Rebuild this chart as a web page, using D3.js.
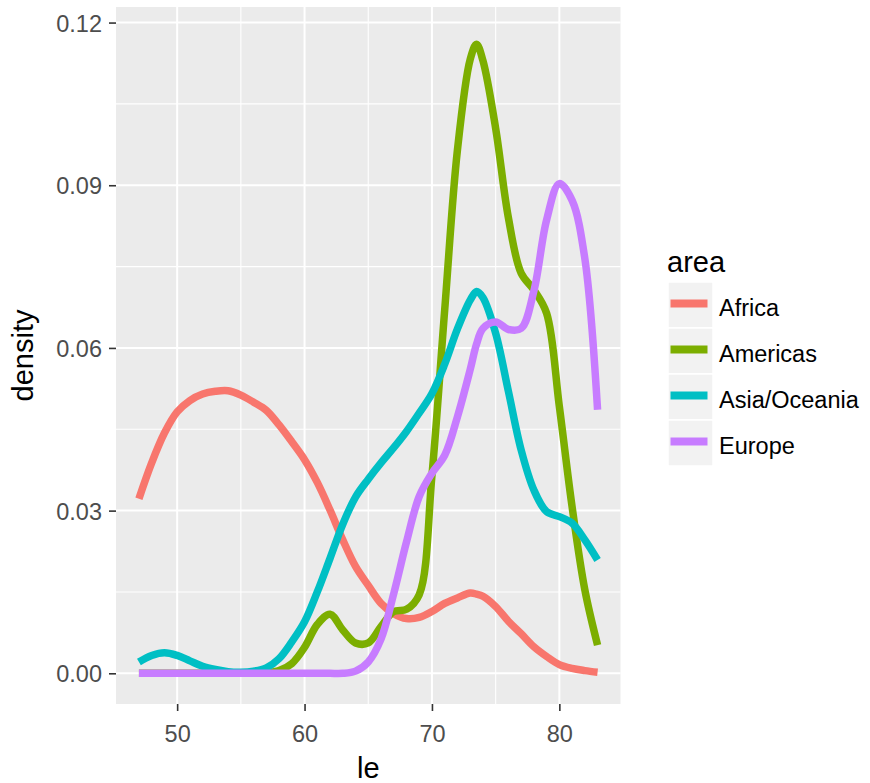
<!DOCTYPE html>
<html>
<head>
<meta charset="utf-8">
<script src="https://cdn.jsdelivr.net/npm/d3@7"></script>
<style>
  html, body { margin: 0; padding: 0; background: #fff; }
  svg { display: block; font-family: "Liberation Sans", Arial, sans-serif; }
</style>
</head>
<body>
<svg id="chart" width="870" height="783"></svg>
<script>
// ---- data ----
const areas = ["Africa", "Americas", "Asia/Oceania", "Europe"];
const le = [47,48,49,50,51,52,53,54,55,56,57,58,59,60,61,62,63,64,65,66,67,68,69,70,71,72,73,73.5,74,75,76,77,78,79,80,81,82,83];
const africa = [0.0322,0.0388,0.0443,0.0482,0.0503,0.0515,0.0520,0.0521,0.0513,0.0500,0.0485,0.0458,0.0427,0.0394,0.0352,0.0301,0.0246,0.0197,0.0162,0.0129,0.0110,0.0101,0.0103,0.0114,0.0129,0.0139,0.0148,0.0146,0.0142,0.0123,0.0096,0.0073,0.0049,0.0031,0.0016,0.0009,0.0005,0.0002];
const americas = [0,0,0,0,0,0,0,0,0,0,0.0001,0.0005,0.0018,0.0048,0.0090,0.0109,0.0080,0.0056,0.0056,0.0086,0.0114,0.0118,0.0145,0.0365,0.0670,0.0965,0.1132,0.1160,0.1130,0.1005,0.0840,0.0738,0.0707,0.0664,0.0492,0.0307,0.0154,0.0052];
const asia = [0.0021,0.0033,0.0038,0.0033,0.0023,0.0013,0.0007,0.0003,0.0002,0.0004,0.0010,0.0027,0.0058,0.0095,0.0150,0.0212,0.0275,0.0325,0.0358,0.0388,0.0416,0.0446,0.0480,0.0516,0.0570,0.0635,0.0688,0.0704,0.0693,0.0627,0.0520,0.0412,0.0338,0.0298,0.0289,0.0277,0.0246,0.0209];
const europe = [0,0,0,0,0,0,0,0,0,0,0,0,0,0,0,0,0,0.0004,0.0021,0.0063,0.0147,0.0242,0.0326,0.0369,0.0402,0.0473,0.0560,0.0607,0.0636,0.0648,0.0634,0.0636,0.0705,0.0836,0.0903,0.0872,0.0765,0.0486];
const colors = ["#F8766D", "#7CAE00", "#00BFC4", "#C77CFF"];
const xTicks = [50, 60, 70, 80];
const xMinor = [55, 65, 75];
const yTicks = [0, 0.03, 0.06, 0.09, 0.12];
const yMinor = [0.015, 0.045, 0.075, 0.105];
const yTickLabels = ["0.00", "0.03", "0.06", "0.09", "0.12"];

const seriesValues = [africa, americas, asia, europe];
const series = areas.map((name, i) => ({
  name, color: colors[i],
  points: le.map((x, j) => ({ x, y: seriesValues[i][j] }))
}));

// ---- layout ----
const panel = { left: 116, right: 620.5, top: 7, bottom: 704 };
const svg = d3.select("#chart");

const x = d3.scaleLinear().domain([45.2, 84.8]).range([panel.left, panel.right]);
const y = d3.scaleLinear().domain([-0.00566, 0.12287]).range([panel.bottom, panel.top]);

// panel background
svg.append("rect")
  .attr("x", panel.left).attr("y", panel.top)
  .attr("width", panel.right - panel.left).attr("height", panel.bottom - panel.top)
  .attr("fill", "#EBEBEB");

const grid = svg.append("g");
// minor grid
grid.selectAll("line.ym").data(yMinor).join("line")
  .attr("x1", panel.left).attr("x2", panel.right)
  .attr("y1", d => y(d)).attr("y2", d => y(d))
  .attr("stroke", "#fff").attr("stroke-width", 1.1);
grid.selectAll("line.xm").data(xMinor).join("line")
  .attr("y1", panel.top).attr("y2", panel.bottom)
  .attr("x1", d => x(d)).attr("x2", d => x(d))
  .attr("stroke", "#fff").attr("stroke-width", 1.1);
// major grid
grid.selectAll("line.yM").data(yTicks).join("line")
  .attr("x1", panel.left).attr("x2", panel.right)
  .attr("y1", d => y(d)).attr("y2", d => y(d))
  .attr("stroke", "#fff").attr("stroke-width", 2);
grid.selectAll("line.xM").data(xTicks).join("line")
  .attr("y1", panel.top).attr("y2", panel.bottom)
  .attr("x1", d => x(d)).attr("x2", d => x(d))
  .attr("stroke", "#fff").attr("stroke-width", 2);

// lines
const line = d3.line().x(d => x(d.x)).y(d => y(d.y)).curve(d3.curveCatmullRom.alpha(0.5));
svg.append("g").selectAll("path").data(series).join("path")
  .attr("d", d => line(d.points))
  .attr("fill", "none")
  .attr("stroke", d => d.color)
  .attr("stroke-width", 7.5)
  .attr("stroke-linejoin", "round");

// axes
const xAxis = d3.axisBottom(x).tickValues(xTicks).tickSize(7).tickPadding(14).tickFormat(d3.format("d"));
const gx = svg.append("g").attr("transform", `translate(0,${panel.bottom})`).call(xAxis);
gx.select(".domain").remove();
gx.selectAll(".tick line").attr("stroke", "#333333").attr("stroke-width", 1.6);
gx.selectAll(".tick text").attr("fill", "#4D4D4D").attr("font-size", "23.5px")
  .attr("font-family", "Liberation Sans, Arial, sans-serif");

const yAxis = d3.axisLeft(y).tickValues(yTicks).tickSize(7).tickPadding(7)
  .tickFormat((d, i) => yTickLabels[i]);
const gy = svg.append("g").attr("transform", `translate(${panel.left},0)`).call(yAxis);
gy.select(".domain").remove();
gy.selectAll(".tick line").attr("stroke", "#333333").attr("stroke-width", 1.6);
gy.selectAll(".tick text").attr("fill", "#4D4D4D").attr("font-size", "23.5px")
  .attr("font-family", "Liberation Sans, Arial, sans-serif").attr("dy", "0.36em");

// axis titles
svg.append("text")
  .attr("x", (panel.left + panel.right) / 2).attr("y", 778)
  .attr("text-anchor", "middle").attr("font-size", "29px").attr("fill", "#000")
  .text("le");
svg.append("text")
  .attr("transform", `translate(33,${(panel.top + panel.bottom) / 2}) rotate(-90)`)
  .attr("text-anchor", "middle").attr("font-size", "29px").attr("fill", "#000")
  .text("density");

// legend
const legend = svg.append("g");
legend.append("text").attr("x", 667).attr("y", 272)
  .attr("font-size", "29px").attr("fill", "#000").text("area");
const rowH = 46, row0 = 282, keyX = 668, keyW = 45;
const rows = legend.selectAll("g.row").data(series).join("g")
  .attr("transform", (d, i) => `translate(0,${row0 + i * rowH})`);
rows.append("rect").attr("x", keyX).attr("y", 0).attr("width", keyW).attr("height", rowH)
  .attr("fill", "#F2F2F2").attr("stroke", "#fff").attr("stroke-width", 1.5);
rows.append("line").attr("x1", keyX + 2.5).attr("x2", keyX + keyW - 5.5)
  .attr("y1", rowH / 2 - 1.5).attr("y2", rowH / 2 - 1.5)
  .attr("stroke", d => d.color).attr("stroke-width", 8);
rows.append("text").attr("x", 719).attr("y", 34)
  .attr("font-size", "23.5px").attr("fill", "#000").text(d => d.name);
</script>
</body>
</html>
